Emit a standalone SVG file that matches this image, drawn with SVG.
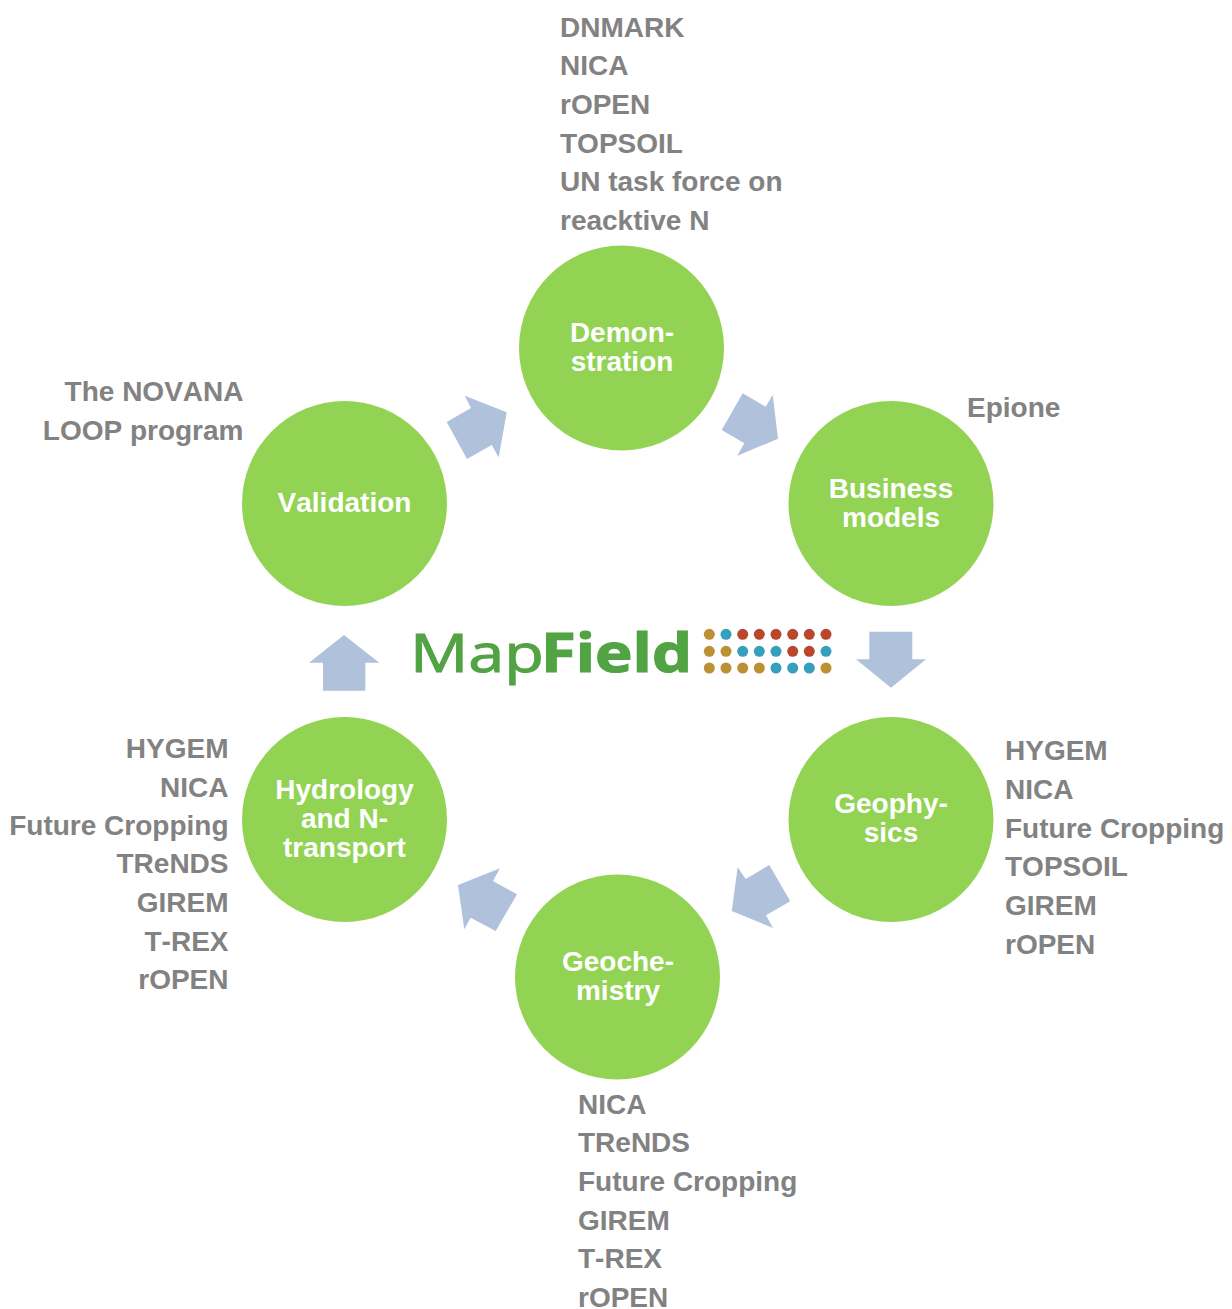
<svg xmlns="http://www.w3.org/2000/svg" width="1232" height="1309" viewBox="0 0 1232 1309">
<style>
.n{fill:#92d353}
.nt{font:bold 28px "Liberation Sans",Arial,sans-serif;fill:#fff;text-anchor:middle;font-kerning:none}
.l{font:bold 28px "Liberation Sans",Arial,sans-serif;fill:#828282;font-kerning:none}
.e{text-anchor:end}
.a{fill:#b0c1dc}
.g{fill:#bc9035}.b{fill:#35a0bd}.r{fill:#b9472b}
.m{font-family:"Open Sans","Noto Sans",sans-serif;font-size:53px;fill:#51a343;stroke:#51a343}
</style>
<rect width="1232" height="1309" fill="#fff"/>
<g id="connectors">
<polygon class="a" points="446.7,422 471,408 464.7,395.7 506.7,412.3 498.7,457.3 491.7,445 467,459"/>
<polygon class="a" points="742.7,393.3 765.7,406.7 772.7,394.7 778,438.7 737.3,455.7 744.3,443.3 721.7,430"/>
<polygon class="a" points="869.3,631.7 912.3,631.7 912.3,659.3 926,659.3 891,687.7 856,659.3 869.3,659.3"/>
<polygon class="a" points="769.3,865 745.7,879 737.7,867.3 731.7,911 773,928 766,915.3 790.3,901.3"/>
<polygon class="a" points="517,894.3 493,881 500,868.3 458,885 464.3,929.3 470.7,917.7 495.7,931"/>
<polygon class="a" points="344,635 379.3,662.7 365.3,662.7 365.3,690.7 323,690.7 323,662.7 309,662.7"/>
</g>
<g id="demonstration">
<circle class="n" cx="621.5" cy="348" r="102.5"/>
<text class="nt" x="622" y="342">Demon-</text>
<text class="nt" x="622" y="371">stration</text>
</g>
<g id="business-models">
<circle class="n" cx="891" cy="503.5" r="102.5"/>
<text class="nt" x="891" y="498">Business</text>
<text class="nt" x="891" y="527">models</text>
</g>
<g id="geophysics">
<circle class="n" cx="891" cy="819.5" r="102.5"/>
<text class="nt" x="891" y="813">Geophy-</text>
<text class="nt" x="891" y="842">sics</text>
</g>
<g id="geochemistry">
<circle class="n" cx="617.5" cy="977" r="102.5"/>
<text class="nt" x="618" y="971">Geoche-</text>
<text class="nt" x="618" y="1000">mistry</text>
</g>
<g id="hydrology">
<circle class="n" cx="344.5" cy="819.5" r="102.5"/>
<text class="nt" x="344.5" y="799">Hydrology</text>
<text class="nt" x="344.5" y="828">and N-</text>
<text class="nt" x="344.5" y="857">transport</text>
</g>
<g id="validation">
<circle class="n" cx="344.5" cy="503.5" r="102.5"/>
<text class="nt" x="344.5" y="512">Validation</text>
</g>
<g id="labels-demonstration">
<text class="l" x="560" y="37">DNMARK</text>
<text class="l" x="560" y="75">NICA</text>
<text class="l" x="560" y="114">rOPEN</text>
<text class="l" x="560" y="153">TOPSOIL</text>
<text class="l" x="560" y="191">UN task force on</text>
<text class="l" x="560" y="230">reacktive N</text>
</g>
<g id="labels-business"><text class="l" x="967" y="417">Epione</text></g>
<g id="labels-geophysics">
<text class="l" x="1005" y="760">HYGEM</text>
<text class="l" x="1005" y="799">NICA</text>
<text class="l" x="1005" y="838">Future Cropping</text>
<text class="l" x="1005" y="876">TOPSOIL</text>
<text class="l" x="1005" y="915">GIREM</text>
<text class="l" x="1005" y="954">rOPEN</text>
</g>
<g id="labels-geochemistry">
<text class="l" x="578" y="1114">NICA</text>
<text class="l" x="578" y="1152">TReNDS</text>
<text class="l" x="578" y="1191">Future Cropping</text>
<text class="l" x="578" y="1230">GIREM</text>
<text class="l" x="578" y="1268">T-REX</text>
<text class="l" x="578" y="1307">rOPEN</text>
</g>
<g id="labels-hydrology">
<text class="l e" x="228.5" y="758">HYGEM</text>
<text class="l e" x="228.5" y="797">NICA</text>
<text class="l e" x="228.5" y="835">Future Cropping</text>
<text class="l e" x="228.5" y="873">TReNDS</text>
<text class="l e" x="228.5" y="912">GIREM</text>
<text class="l e" x="228.5" y="951">T-REX</text>
<text class="l e" x="228.5" y="989">rOPEN</text>
</g>
<g id="labels-validation">
<text class="l e" x="243.5" y="401">The NOVANA</text>
<text class="l e" x="243.5" y="440">LOOP program</text>
</g>
<g id="logo">
<text class="m" x="410" y="671.7" textLength="134" lengthAdjust="spacingAndGlyphs" stroke-width="1">Map</text>
<text class="m" x="541" y="671.7" font-weight="700" textLength="151" lengthAdjust="spacingAndGlyphs" stroke-width="1.2">Field</text>
<g>
<circle class="g" cx="709.3" cy="634.3" r="5.5"/><circle class="b" cx="726" cy="634.3" r="5.5"/><circle class="r" cx="742.7" cy="634.3" r="5.5"/><circle class="r" cx="759.3" cy="634.3" r="5.5"/><circle class="r" cx="776" cy="634.3" r="5.5"/><circle class="r" cx="792.7" cy="634.3" r="5.5"/><circle class="r" cx="809.3" cy="634.3" r="5.5"/><circle class="r" cx="826" cy="634.3" r="5.5"/>
<circle class="g" cx="709.3" cy="651.3" r="5.5"/><circle class="g" cx="726" cy="651.3" r="5.5"/><circle class="b" cx="742.7" cy="651.3" r="5.5"/><circle class="b" cx="759.3" cy="651.3" r="5.5"/><circle class="b" cx="776" cy="651.3" r="5.5"/><circle class="r" cx="792.7" cy="651.3" r="5.5"/><circle class="r" cx="809.3" cy="651.3" r="5.5"/><circle class="b" cx="826" cy="651.3" r="5.5"/>
<circle class="g" cx="709.3" cy="668" r="5.5"/><circle class="g" cx="726" cy="668" r="5.5"/><circle class="g" cx="742.7" cy="668" r="5.5"/><circle class="g" cx="759.3" cy="668" r="5.5"/><circle class="b" cx="776" cy="668" r="5.5"/><circle class="b" cx="792.7" cy="668" r="5.5"/><circle class="b" cx="809.3" cy="668" r="5.5"/><circle class="g" cx="826" cy="668" r="5.5"/>
</g>
</g>
</svg>
